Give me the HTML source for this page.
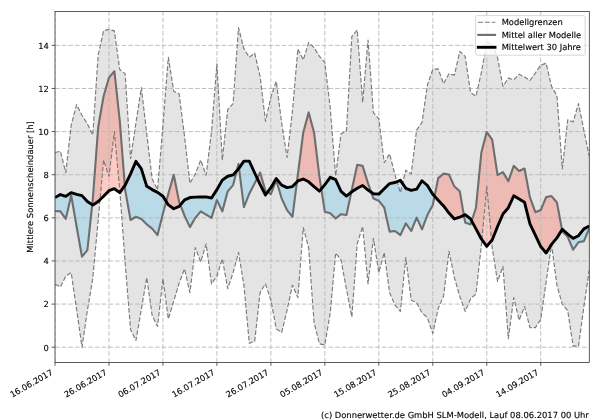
<!DOCTYPE html>
<html><head><meta charset="utf-8"><style>
html,body{margin:0;padding:0;background:#fff;width:600px;height:420px;overflow:hidden}
svg{display:block} text{text-rendering:geometricPrecision}
</style></head><body>
<svg width="600" height="420" viewBox="0 0 600 420"><defs><clipPath id="ax"><rect x="55.0" y="11.5" width="534.3" height="350.9"/></clipPath></defs><rect width="600" height="420" fill="#fff"/><g clip-path="url(#ax)"><polygon points="55.00,152.51 60.40,151.22 65.79,172.56 71.19,125.13 76.59,104.65 81.98,115.21 87.38,123.84 92.78,135.05 98.18,55.06 103.57,30.70 108.97,29.41 114.37,30.91 119.76,69.51 125.16,73.82 130.56,158.55 135.95,122.98 141.35,87.62 146.75,133.76 152.15,179.03 157.54,189.81 162.94,125.13 168.34,57.22 173.73,91.28 179.13,93.87 184.53,136.34 189.93,183.34 195.32,173.86 200.72,160.06 206.12,175.15 211.51,131.60 216.91,63.90 222.31,160.06 227.70,109.39 233.10,103.57 238.50,27.68 243.90,48.81 249.29,57.22 254.69,53.12 260.09,76.41 265.48,121.25 270.88,97.10 276.28,81.37 281.67,122.98 287.07,157.47 292.47,110.69 297.87,48.81 303.26,60.02 308.66,42.56 314.06,47.52 319.45,56.36 324.85,62.61 330.25,108.32 335.64,175.80 341.04,133.76 346.44,130.95 351.84,36.30 357.23,30.05 362.63,102.49 368.03,39.97 373.42,112.63 378.82,118.88 384.22,162.65 389.61,153.81 395.01,175.15 400.41,192.61 405.81,170.19 411.20,173.86 416.60,130.09 422.00,122.54 427.39,85.03 432.79,69.29 438.19,68.86 443.58,83.74 448.98,73.82 454.38,75.11 459.78,51.40 465.17,56.36 470.57,92.58 475.97,96.24 481.36,72.53 486.76,42.56 492.16,43.85 497.55,57.65 502.95,86.32 508.35,78.13 513.75,79.86 519.14,74.25 524.54,77.05 529.94,80.50 535.33,72.96 540.73,65.20 546.13,63.25 551.52,86.32 556.92,95.81 562.32,168.90 567.72,119.74 573.11,121.90 578.51,103.57 583.91,130.52 589.30,156.39 589.30,270.02 583.91,306.45 578.51,346.12 573.11,346.12 567.72,310.76 562.32,304.30 556.92,285.11 551.52,244.36 546.13,281.87 540.73,319.39 535.33,327.58 529.94,327.58 524.54,306.45 519.14,320.25 513.75,297.61 508.35,338.79 502.95,266.35 497.55,281.44 492.16,247.59 486.76,186.36 481.36,245.22 475.97,293.95 470.57,298.91 465.17,311.41 459.78,296.32 454.38,277.56 448.98,251.26 443.58,296.32 438.19,308.39 432.79,333.40 427.39,317.66 422.00,312.70 416.60,302.57 411.20,300.20 405.81,257.51 400.41,311.41 395.01,305.16 389.61,292.65 384.22,252.55 378.82,272.60 373.42,238.32 368.03,283.81 362.63,226.46 357.23,243.71 351.84,317.02 346.44,288.99 341.04,260.10 335.64,252.98 330.25,312.70 324.85,345.04 319.45,343.75 314.06,322.62 308.66,248.02 303.26,227.54 297.87,297.61 292.47,285.11 287.07,310.12 281.67,332.54 276.28,328.87 270.88,300.20 265.48,283.81 260.09,292.65 254.69,341.38 249.29,343.32 243.90,285.11 238.50,252.34 233.10,272.60 227.70,288.77 222.31,258.80 216.91,276.27 211.51,283.81 206.12,243.93 200.72,262.04 195.32,247.59 189.93,292.65 184.53,268.94 179.13,283.17 173.73,301.28 168.34,318.96 162.94,278.85 157.54,326.50 152.15,315.51 146.75,277.56 141.35,309.04 135.95,340.52 130.56,329.52 125.16,263.12 119.76,189.81 114.37,131.60 108.97,176.44 103.57,160.06 98.18,220.00 92.78,278.21 87.38,310.55 81.98,347.20 76.59,309.25 71.19,272.60 65.79,276.05 60.40,287.05 55.00,284.24" fill="#e4e4e4" stroke="none"/><polygon points="92.22,204.74 92.78,199.51 98.18,127.29 103.57,96.24 108.97,77.70 114.37,71.23 119.76,120.82 124.83,185.54 124.83,185.54 119.76,192.61 114.37,188.73 108.97,190.67 103.57,196.28 98.18,201.45 92.78,205.12 92.22,204.74" fill="rgba(250,128,114,0.42)" stroke="none"/><polygon points="166.21,201.51 168.34,193.69 173.73,174.72 179.13,201.67 180.38,204.92 180.38,204.92 179.13,206.41 173.73,208.78 168.34,204.90 166.21,201.51" fill="rgba(250,128,114,0.42)" stroke="none"/><polygon points="236.72,170.88 238.50,163.94 239.02,168.14 239.02,168.14 238.50,168.90 236.72,170.88" fill="rgba(250,128,114,0.42)" stroke="none"/><polygon points="257.20,178.32 260.09,172.56 265.48,190.89 267.58,192.14 267.58,192.14 265.48,194.99 260.09,184.42 257.20,178.32" fill="rgba(250,128,114,0.42)" stroke="none"/><polygon points="296.94,181.93 297.87,174.72 303.26,132.46 308.66,112.41 314.06,132.46 319.45,176.88 321.31,188.88 321.31,188.88 319.45,191.11 314.06,186.58 308.66,181.83 303.26,179.03 297.87,180.97 296.94,181.93" fill="rgba(250,128,114,0.42)" stroke="none"/><polygon points="351.33,192.15 351.84,189.81 357.23,164.80 362.63,165.88 368.03,183.34 371.18,192.17 371.18,192.17 368.03,190.03 362.63,185.50 357.23,188.30 351.84,191.75 351.33,192.15" fill="rgba(250,128,114,0.42)" stroke="none"/><polygon points="434.57,196.25 438.19,178.17 443.58,173.64 448.98,174.50 454.38,186.58 459.78,191.32 463.90,215.22 463.90,215.22 459.78,217.19 454.38,218.92 448.98,213.10 443.58,205.98 438.19,200.16 434.57,196.25" fill="rgba(250,128,114,0.42)" stroke="none"/><polygon points="471.70,221.00 475.97,207.71 481.36,152.51 486.76,132.03 492.16,139.58 497.55,175.15 502.95,172.13 508.35,181.19 513.75,165.88 519.14,171.05 524.54,168.47 529.94,197.36 535.33,212.23 540.73,210.08 546.13,197.14 551.52,196.06 556.92,202.53 562.01,229.76 562.01,229.76 556.92,237.89 551.52,244.36 546.13,252.98 540.73,246.51 535.33,235.09 529.94,223.88 524.54,202.32 519.14,199.08 513.75,195.85 508.35,207.71 502.95,213.96 497.55,226.46 492.16,240.05 486.76,246.30 481.36,238.97 475.97,228.84 471.70,221.00" fill="rgba(250,128,114,0.42)" stroke="none"/><polygon points="55.00,210.94 60.40,211.37 65.79,218.92 71.19,195.20 76.59,226.46 81.98,256.65 87.38,250.18 92.22,204.74 92.22,204.74 87.38,201.45 81.98,195.63 76.59,194.34 71.19,192.61 65.79,196.28 60.40,194.56 55.00,197.57" fill="rgba(135,206,235,0.45)" stroke="none"/><polygon points="124.83,185.54 125.16,189.81 130.56,220.00 135.95,216.76 141.35,218.92 146.75,224.31 152.15,228.62 157.54,235.09 162.94,213.53 166.21,201.51 166.21,201.51 162.94,196.28 157.54,192.40 152.15,189.60 146.75,186.36 141.35,168.90 135.95,161.35 130.56,173.86 125.16,185.07 124.83,185.54" fill="rgba(135,206,235,0.45)" stroke="none"/><polygon points="180.38,204.92 184.53,215.68 189.93,227.11 195.32,217.84 200.72,211.37 206.12,214.61 211.51,217.84 216.91,200.16 222.31,211.37 227.70,191.32 233.10,185.07 236.72,170.88 236.72,170.88 233.10,174.94 227.70,176.23 222.31,180.11 216.91,189.60 211.51,198.00 206.12,196.93 200.72,196.93 195.32,197.14 189.93,197.57 184.53,199.95 180.38,204.92" fill="rgba(135,206,235,0.45)" stroke="none"/><polygon points="239.02,168.14 243.90,207.06 249.29,193.69 254.69,183.34 257.20,178.32 257.20,178.32 254.69,173.00 249.29,161.14 243.90,161.14 239.02,168.14" fill="rgba(135,206,235,0.45)" stroke="none"/><polygon points="267.58,192.14 270.88,194.12 276.28,180.11 281.67,198.44 287.07,210.08 292.47,216.76 296.94,181.93 296.94,181.93 292.47,186.58 287.07,187.66 281.67,185.07 276.28,178.60 270.88,187.66 267.58,192.14" fill="rgba(135,206,235,0.45)" stroke="none"/><polygon points="321.31,188.88 324.85,211.80 330.25,213.31 335.64,218.49 341.04,214.17 346.44,215.04 351.33,192.15 351.33,192.15 346.44,196.06 341.04,191.32 335.64,179.68 330.25,177.31 324.85,184.64 321.31,188.88" fill="rgba(135,206,235,0.45)" stroke="none"/><polygon points="371.18,192.17 373.42,198.44 378.82,200.81 384.22,207.49 389.61,231.64 395.01,230.99 400.41,235.09 405.81,223.45 411.20,230.99 416.60,217.62 422.00,229.27 427.39,215.04 432.79,205.12 434.57,196.25 434.57,196.25 432.79,194.34 427.39,185.50 422.00,180.76 416.60,189.17 411.20,190.46 405.81,188.30 400.41,180.33 395.01,182.48 389.61,183.56 384.22,188.73 378.82,194.12 373.42,193.69 371.18,192.17" fill="rgba(135,206,235,0.45)" stroke="none"/><polygon points="463.90,215.22 465.17,222.58 470.57,224.52 471.70,221.00 471.70,221.00 470.57,218.92 465.17,214.61 463.90,215.22" fill="rgba(135,206,235,0.45)" stroke="none"/><polygon points="562.01,229.76 562.32,231.42 567.72,236.81 573.11,249.75 578.51,242.20 583.91,241.12 589.30,228.40 589.30,226.03 583.91,228.84 578.51,235.73 573.11,238.32 567.72,234.01 562.32,229.27 562.01,229.76" fill="rgba(135,206,235,0.45)" stroke="none"/><path d="M55.00 347.20H589.30M55.00 304.08H589.30M55.00 260.96H589.30M55.00 217.84H589.30M55.00 174.72H589.30M55.00 131.60H589.30M55.00 88.48H589.30M55.00 45.36H589.30" stroke="#b8b8b8" stroke-width="0.9" stroke-dasharray="4.6 2.07" fill="none"/><path d="M55.00 362.40V11.50M108.97 362.40V11.50M162.94 362.40V11.50M216.91 362.40V11.50M270.88 362.40V11.50M324.85 362.40V11.50M378.82 362.40V11.50M432.79 362.40V11.50M486.76 362.40V11.50M540.73 362.40V11.50" stroke="#b8b8b8" stroke-width="0.9" stroke-dasharray="4.6 2.07" fill="none"/><polyline points="55.00,152.51 60.40,151.22 65.79,172.56 71.19,125.13 76.59,104.65 81.98,115.21 87.38,123.84 92.78,135.05 98.18,55.06 103.57,30.70 108.97,29.41 114.37,30.91 119.76,69.51 125.16,73.82 130.56,158.55 135.95,122.98 141.35,87.62 146.75,133.76 152.15,179.03 157.54,189.81 162.94,125.13 168.34,57.22 173.73,91.28 179.13,93.87 184.53,136.34 189.93,183.34 195.32,173.86 200.72,160.06 206.12,175.15 211.51,131.60 216.91,63.90 222.31,160.06 227.70,109.39 233.10,103.57 238.50,27.68 243.90,48.81 249.29,57.22 254.69,53.12 260.09,76.41 265.48,121.25 270.88,97.10 276.28,81.37 281.67,122.98 287.07,157.47 292.47,110.69 297.87,48.81 303.26,60.02 308.66,42.56 314.06,47.52 319.45,56.36 324.85,62.61 330.25,108.32 335.64,175.80 341.04,133.76 346.44,130.95 351.84,36.30 357.23,30.05 362.63,102.49 368.03,39.97 373.42,112.63 378.82,118.88 384.22,162.65 389.61,153.81 395.01,175.15 400.41,192.61 405.81,170.19 411.20,173.86 416.60,130.09 422.00,122.54 427.39,85.03 432.79,69.29 438.19,68.86 443.58,83.74 448.98,73.82 454.38,75.11 459.78,51.40 465.17,56.36 470.57,92.58 475.97,96.24 481.36,72.53 486.76,42.56 492.16,43.85 497.55,57.65 502.95,86.32 508.35,78.13 513.75,79.86 519.14,74.25 524.54,77.05 529.94,80.50 535.33,72.96 540.73,65.20 546.13,63.25 551.52,86.32 556.92,95.81 562.32,168.90 567.72,119.74 573.11,121.90 578.51,103.57 583.91,130.52 589.30,156.39" fill="none" stroke="#7a7a7a" stroke-width="1.15" stroke-linejoin="round" stroke-dasharray="4.6 2.0"/><polyline points="55.00,284.24 60.40,287.05 65.79,276.05 71.19,272.60 76.59,309.25 81.98,347.20 87.38,310.55 92.78,278.21 98.18,220.00 103.57,160.06 108.97,176.44 114.37,131.60 119.76,189.81 125.16,263.12 130.56,329.52 135.95,340.52 141.35,309.04 146.75,277.56 152.15,315.51 157.54,326.50 162.94,278.85 168.34,318.96 173.73,301.28 179.13,283.17 184.53,268.94 189.93,292.65 195.32,247.59 200.72,262.04 206.12,243.93 211.51,283.81 216.91,276.27 222.31,258.80 227.70,288.77 233.10,272.60 238.50,252.34 243.90,285.11 249.29,343.32 254.69,341.38 260.09,292.65 265.48,283.81 270.88,300.20 276.28,328.87 281.67,332.54 287.07,310.12 292.47,285.11 297.87,297.61 303.26,227.54 308.66,248.02 314.06,322.62 319.45,343.75 324.85,345.04 330.25,312.70 335.64,252.98 341.04,260.10 346.44,288.99 351.84,317.02 357.23,243.71 362.63,226.46 368.03,283.81 373.42,238.32 378.82,272.60 384.22,252.55 389.61,292.65 395.01,305.16 400.41,311.41 405.81,257.51 411.20,300.20 416.60,302.57 422.00,312.70 427.39,317.66 432.79,333.40 438.19,308.39 443.58,296.32 448.98,251.26 454.38,277.56 459.78,296.32 465.17,311.41 470.57,298.91 475.97,293.95 481.36,245.22 486.76,186.36 492.16,247.59 497.55,281.44 502.95,266.35 508.35,338.79 513.75,297.61 519.14,320.25 524.54,306.45 529.94,327.58 535.33,327.58 540.73,319.39 546.13,281.87 551.52,244.36 556.92,285.11 562.32,304.30 567.72,310.76 573.11,346.12 578.51,346.12 583.91,306.45 589.30,270.02" fill="none" stroke="#7a7a7a" stroke-width="1.15" stroke-linejoin="round" stroke-dasharray="4.6 2.0"/><polyline points="55.00,210.94 60.40,211.37 65.79,218.92 71.19,195.20 76.59,226.46 81.98,256.65 87.38,250.18 92.78,199.51 98.18,127.29 103.57,96.24 108.97,77.70 114.37,71.23 119.76,120.82 125.16,189.81 130.56,220.00 135.95,216.76 141.35,218.92 146.75,224.31 152.15,228.62 157.54,235.09 162.94,213.53 168.34,193.69 173.73,174.72 179.13,201.67 184.53,215.68 189.93,227.11 195.32,217.84 200.72,211.37 206.12,214.61 211.51,217.84 216.91,200.16 222.31,211.37 227.70,191.32 233.10,185.07 238.50,163.94 243.90,207.06 249.29,193.69 254.69,183.34 260.09,172.56 265.48,190.89 270.88,194.12 276.28,180.11 281.67,198.44 287.07,210.08 292.47,216.76 297.87,174.72 303.26,132.46 308.66,112.41 314.06,132.46 319.45,176.88 324.85,211.80 330.25,213.31 335.64,218.49 341.04,214.17 346.44,215.04 351.84,189.81 357.23,164.80 362.63,165.88 368.03,183.34 373.42,198.44 378.82,200.81 384.22,207.49 389.61,231.64 395.01,230.99 400.41,235.09 405.81,223.45 411.20,230.99 416.60,217.62 422.00,229.27 427.39,215.04 432.79,205.12 438.19,178.17 443.58,173.64 448.98,174.50 454.38,186.58 459.78,191.32 465.17,222.58 470.57,224.52 475.97,207.71 481.36,152.51 486.76,132.03 492.16,139.58 497.55,175.15 502.95,172.13 508.35,181.19 513.75,165.88 519.14,171.05 524.54,168.47 529.94,197.36 535.33,212.23 540.73,210.08 546.13,197.14 551.52,196.06 556.92,202.53 562.32,231.42 567.72,236.81 573.11,249.75 578.51,242.20 583.91,241.12 589.30,228.40" fill="none" stroke="#6e6e6e" stroke-width="2.1" stroke-linejoin="round"/><polyline points="55.00,197.57 60.40,194.56 65.79,196.28 71.19,192.61 76.59,194.34 81.98,195.63 87.38,201.45 92.78,205.12 98.18,201.45 103.57,196.28 108.97,190.67 114.37,188.73 119.76,192.61 125.16,185.07 130.56,173.86 135.95,161.35 141.35,168.90 146.75,186.36 152.15,189.60 157.54,192.40 162.94,196.28 168.34,204.90 173.73,208.78 179.13,206.41 184.53,199.95 189.93,197.57 195.32,197.14 200.72,196.93 206.12,196.93 211.51,198.00 216.91,189.60 222.31,180.11 227.70,176.23 233.10,174.94 238.50,168.90 243.90,161.14 249.29,161.14 254.69,173.00 260.09,184.42 265.48,194.99 270.88,187.66 276.28,178.60 281.67,185.07 287.07,187.66 292.47,186.58 297.87,180.97 303.26,179.03 308.66,181.83 314.06,186.58 319.45,191.11 324.85,184.64 330.25,177.31 335.64,179.68 341.04,191.32 346.44,196.06 351.84,191.75 357.23,188.30 362.63,185.50 368.03,190.03 373.42,193.69 378.82,194.12 384.22,188.73 389.61,183.56 395.01,182.48 400.41,180.33 405.81,188.30 411.20,190.46 416.60,189.17 422.00,180.76 427.39,185.50 432.79,194.34 438.19,200.16 443.58,205.98 448.98,213.10 454.38,218.92 459.78,217.19 465.17,214.61 470.57,218.92 475.97,228.84 481.36,238.97 486.76,246.30 492.16,240.05 497.55,226.46 502.95,213.96 508.35,207.71 513.75,195.85 519.14,199.08 524.54,202.32 529.94,223.88 535.33,235.09 540.73,246.51 546.13,252.98 551.52,244.36 556.92,237.89 562.32,229.27 567.72,234.01 573.11,238.32 578.51,235.73 583.91,228.84 589.30,226.03" fill="none" stroke="#000" stroke-width="2.9" stroke-linejoin="round"/></g><rect x="55.0" y="11.5" width="534.3" height="350.9" fill="none" stroke="#333" stroke-width="0.8"/><path d="M51.60 347.20H55.00M51.60 304.08H55.00M51.60 260.96H55.00M51.60 217.84H55.00M51.60 174.72H55.00M51.60 131.60H55.00M51.60 88.48H55.00M51.60 45.36H55.00M55.00 362.40V365.80M108.97 362.40V365.80M162.94 362.40V365.80M216.91 362.40V365.80M270.88 362.40V365.80M324.85 362.40V365.80M378.82 362.40V365.80M432.79 362.40V365.80M486.76 362.40V365.80M540.73 362.40V365.80" stroke="#333" stroke-width="0.8"/><text x="48.80" y="350.60" font-size="8.33" text-anchor="end" font-family="DejaVu Sans, Liberation Sans, sans-serif" stroke="#000" stroke-width="0.12" stroke-linejoin="round" fill="#000">0</text><text x="48.80" y="307.48" font-size="8.33" text-anchor="end" font-family="DejaVu Sans, Liberation Sans, sans-serif" stroke="#000" stroke-width="0.12" stroke-linejoin="round" fill="#000">2</text><text x="48.80" y="264.36" font-size="8.33" text-anchor="end" font-family="DejaVu Sans, Liberation Sans, sans-serif" stroke="#000" stroke-width="0.12" stroke-linejoin="round" fill="#000">4</text><text x="48.80" y="221.24" font-size="8.33" text-anchor="end" font-family="DejaVu Sans, Liberation Sans, sans-serif" stroke="#000" stroke-width="0.12" stroke-linejoin="round" fill="#000">6</text><text x="48.80" y="178.12" font-size="8.33" text-anchor="end" font-family="DejaVu Sans, Liberation Sans, sans-serif" stroke="#000" stroke-width="0.12" stroke-linejoin="round" fill="#000">8</text><text x="48.80" y="135.00" font-size="8.33" text-anchor="end" font-family="DejaVu Sans, Liberation Sans, sans-serif" stroke="#000" stroke-width="0.12" stroke-linejoin="round" fill="#000">10</text><text x="48.80" y="91.88" font-size="8.33" text-anchor="end" font-family="DejaVu Sans, Liberation Sans, sans-serif" stroke="#000" stroke-width="0.12" stroke-linejoin="round" fill="#000">12</text><text x="48.80" y="48.76" font-size="8.33" text-anchor="end" font-family="DejaVu Sans, Liberation Sans, sans-serif" stroke="#000" stroke-width="0.12" stroke-linejoin="round" fill="#000">14</text><text x="53.50" y="374.00" font-size="8.33" text-anchor="end" font-family="DejaVu Sans, Liberation Sans, sans-serif" stroke="#000" stroke-width="0.12" stroke-linejoin="round" fill="#000" transform="rotate(-30 53.50 374.00)">16.06.2017</text><text x="107.47" y="374.00" font-size="8.33" text-anchor="end" font-family="DejaVu Sans, Liberation Sans, sans-serif" stroke="#000" stroke-width="0.12" stroke-linejoin="round" fill="#000" transform="rotate(-30 107.47 374.00)">26.06.2017</text><text x="161.44" y="374.00" font-size="8.33" text-anchor="end" font-family="DejaVu Sans, Liberation Sans, sans-serif" stroke="#000" stroke-width="0.12" stroke-linejoin="round" fill="#000" transform="rotate(-30 161.44 374.00)">06.07.2017</text><text x="215.41" y="374.00" font-size="8.33" text-anchor="end" font-family="DejaVu Sans, Liberation Sans, sans-serif" stroke="#000" stroke-width="0.12" stroke-linejoin="round" fill="#000" transform="rotate(-30 215.41 374.00)">16.07.2017</text><text x="269.38" y="374.00" font-size="8.33" text-anchor="end" font-family="DejaVu Sans, Liberation Sans, sans-serif" stroke="#000" stroke-width="0.12" stroke-linejoin="round" fill="#000" transform="rotate(-30 269.38 374.00)">26.07.2017</text><text x="323.35" y="374.00" font-size="8.33" text-anchor="end" font-family="DejaVu Sans, Liberation Sans, sans-serif" stroke="#000" stroke-width="0.12" stroke-linejoin="round" fill="#000" transform="rotate(-30 323.35 374.00)">05.08.2017</text><text x="377.32" y="374.00" font-size="8.33" text-anchor="end" font-family="DejaVu Sans, Liberation Sans, sans-serif" stroke="#000" stroke-width="0.12" stroke-linejoin="round" fill="#000" transform="rotate(-30 377.32 374.00)">15.08.2017</text><text x="431.29" y="374.00" font-size="8.33" text-anchor="end" font-family="DejaVu Sans, Liberation Sans, sans-serif" stroke="#000" stroke-width="0.12" stroke-linejoin="round" fill="#000" transform="rotate(-30 431.29 374.00)">25.08.2017</text><text x="485.26" y="374.00" font-size="8.33" text-anchor="end" font-family="DejaVu Sans, Liberation Sans, sans-serif" stroke="#000" stroke-width="0.12" stroke-linejoin="round" fill="#000" transform="rotate(-30 485.26 374.00)">04.09.2017</text><text x="539.23" y="374.00" font-size="8.33" text-anchor="end" font-family="DejaVu Sans, Liberation Sans, sans-serif" stroke="#000" stroke-width="0.12" stroke-linejoin="round" fill="#000" transform="rotate(-30 539.23 374.00)">14.09.2017</text><text x="33.00" y="186.95" font-size="8.33" text-anchor="middle" font-family="DejaVu Sans, Liberation Sans, sans-serif" stroke="#000" stroke-width="0.12" stroke-linejoin="round" fill="#000" transform="rotate(-90 33.00 186.95)">Mittlere Sonnenscheindauer [h]</text><rect x="475.6" y="15.6" width="109.60000000000002" height="39.6" rx="1.7" fill="rgba(255,255,255,0.8)" stroke="#cccccc" stroke-width="0.8"/><path d="M477.9 22.3H495.4" stroke="#7a7a7a" stroke-width="1.1" stroke-dasharray="4.9 2.1"/><text x="501.7" y="25.20" font-size="8.33" font-family="DejaVu Sans, Liberation Sans, sans-serif" stroke="#000" stroke-width="0.12" stroke-linejoin="round" fill="#000">Modellgrenzen</text><path d="M478.3 34.9H495.0" stroke="#6e6e6e" stroke-width="2.1" stroke-linecap="square"/><text x="501.7" y="37.80" font-size="8.33" font-family="DejaVu Sans, Liberation Sans, sans-serif" stroke="#000" stroke-width="0.12" stroke-linejoin="round" fill="#000">Mittel aller Modelle</text><path d="M478.3 47.3H495.0" stroke="#000" stroke-width="2.9" stroke-linecap="square"/><text x="501.7" y="50.20" font-size="8.33" font-family="DejaVu Sans, Liberation Sans, sans-serif" stroke="#000" stroke-width="0.12" stroke-linejoin="round" fill="#000">Mittelwert 30 Jahre</text><text x="588.8" y="417.6" font-size="8.37" text-anchor="end" font-family="DejaVu Sans, Liberation Sans, sans-serif" stroke="#000" stroke-width="0.12" stroke-linejoin="round" fill="#000">(c) Donnerwetter.de GmbH SLM-Modell, Lauf 08.06.2017 00 Uhr</text></svg>
</body></html>
